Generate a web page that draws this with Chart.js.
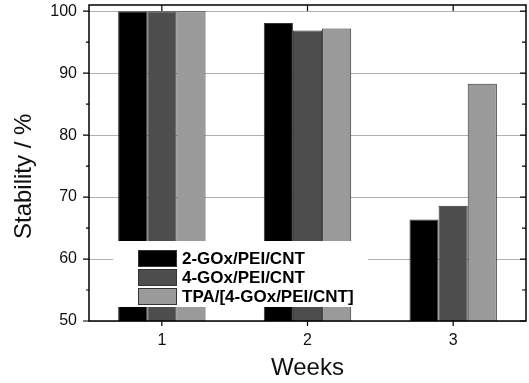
<!DOCTYPE html>
<html>
<head>
<meta charset="utf-8">
<script src="https://cdn.jsdelivr.net/npm/chart.js@4.4.0/dist/chart.umd.min.js"></script>
<style>
  html, body { margin: 0; padding: 0; background: #fff; }
</style>
</head>
<body>
<canvas id="stability" width="529" height="383"></canvas>
<script>
// data
const weeks = ['1', '2', '3'];
const seriesNames = ['2-GOx/PEI/CNT', '4-GOx/PEI/CNT', 'TPA/[4-GOx/PEI/CNT]'];
const gox2 = [100, 98.1, 66.4];
const gox4 = [100, 96.9, 68.6];
const tpaGox4 = [100, 97.2, 88.3];
const yMajor = [50, 60, 70, 80, 90, 100];
const yMinor = [55, 65, 75, 85, 95];

const FILL = ['#000000', '#4d4d4d', '#9a9a9a'];
const FONT = '"Liberation Sans", Arial, Helvetica, sans-serif';

Chart.defaults.font.family = FONT;
Chart.defaults.color = '#111';

// white legend box sitting over the bars, lower left of the plot
const boxLegend = {
  id: 'boxLegend',
  afterDatasetsDraw(chart) {
    const ctx = chart.ctx;
    ctx.save();
    ctx.fillStyle = '#fff';
    ctx.fillRect(113, 241, 255, 66);
    ctx.font = 'bold 17px ' + FONT;
    ctx.textBaseline = 'middle';
    chart.data.datasets.forEach((ds, i) => {
      const y = 250 + i * 19;
      ctx.fillStyle = ds.backgroundColor;
      ctx.fillRect(138, y, 39, 17);
      ctx.strokeStyle = '#333'; ctx.lineWidth = 1;
      ctx.strokeRect(138.5, y + 0.5, 38, 16);
      ctx.fillStyle = '#000';
      ctx.fillText(ds.label, 182, y + 9);
    });
    ctx.restore();
  },
};

// closed box frame with major/minor ticks (Origin style)
const frame = {
  id: 'frame',
  afterDraw(chart) {
    const { ctx, chartArea: { left, right, top, bottom }, scales: { x, y } } = chart;
    ctx.save();
    ctx.strokeStyle = '#000';
    ctx.lineWidth = 1.5;
    ctx.strokeRect(left, top, right - left, bottom - top);
    ctx.lineWidth = 1.2;
    ctx.beginPath();
    yMajor.forEach(v => {
      const p = y.getPixelForValue(v);
      ctx.moveTo(left - 6, p); ctx.lineTo(left, p);
      ctx.moveTo(right - 6, p); ctx.lineTo(right, p);
    });
    yMinor.forEach(v => {
      const p = y.getPixelForValue(v);
      ctx.moveTo(left - 3, p); ctx.lineTo(left, p);
      ctx.moveTo(right - 4, p); ctx.lineTo(right, p);
    });
    weeks.forEach((w, i) => {
      const p = x.getPixelForValue(i);
      ctx.moveTo(p, bottom); ctx.lineTo(p, bottom + 5);
      ctx.moveTo(p, top); ctx.lineTo(p, top + 6);
    });
    ctx.stroke();
    ctx.restore();
  },
};

const barStyle = { borderColor: '#333', borderWidth: 1, categoryPercentage: 0.6, barPercentage: 1 };

new Chart(document.getElementById('stability'), {
  type: 'bar',
  data: {
    labels: weeks,
    datasets: [
      { label: seriesNames[0], data: gox2, backgroundColor: FILL[0], ...barStyle },
      { label: seriesNames[1], data: gox4, backgroundColor: FILL[1], ...barStyle },
      { label: seriesNames[2], data: tpaGox4, backgroundColor: FILL[2], ...barStyle },
    ],
  },
  options: {
    responsive: false,
    animation: false,
    devicePixelRatio: 1,
    layout: { padding: { top: 5, right: 3, left: 0, bottom: 0 } },
    plugins: { legend: { display: false }, tooltip: { enabled: false } },
    scales: {
      x: {
        offset: true,
        grid: { display: false },
        border: { display: false },
        ticks: { font: { size: 16 }, padding: 2 },
        title: { display: true, text: 'Weeks', font: { size: 24 }, padding: 0 },
        afterFit: s => { s.height = 62; s.paddingLeft = 0; s.paddingRight = 0; },
      },
      y: {
        min: 50, max: 101,
        afterBuildTicks: s => { s.ticks = yMajor.map(v => ({ value: v })); },
        grid: { color: '#b0b0b0', lineWidth: 1, drawTicks: false },
        border: { display: false },
        ticks: { font: { size: 16 }, padding: 12 },
        title: { display: true, text: 'Stability / %    ', font: { size: 24 }, padding: { top: 10 } },
        afterFit: s => { s.width = 89; s.paddingTop = 0; s.paddingBottom = 0; },
      },
    },
  },
  plugins: [boxLegend, frame],
});
</script>
</body>
</html>
